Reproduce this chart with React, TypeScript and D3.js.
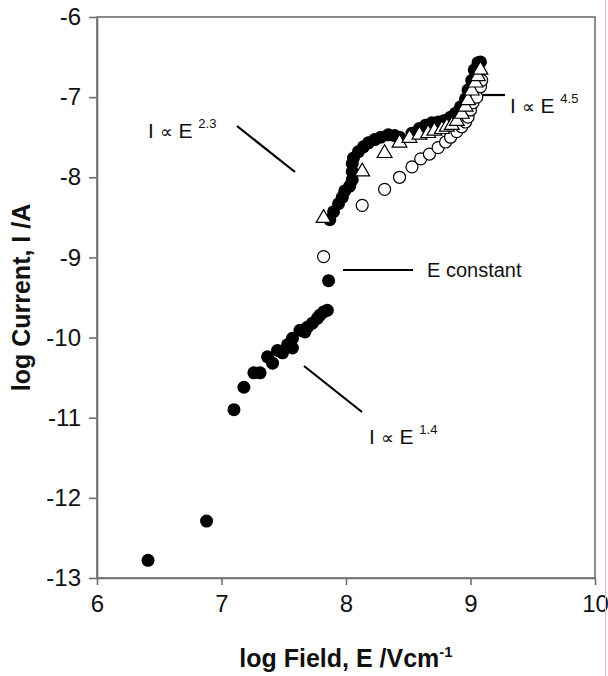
import React, { useRef, useEffect } from "react";
import * as d3 from "d3";

// log field (x) / log current (y) readings
const filledX = [6.41, 6.88, 7.1, 7.18, 7.26, 7.31, 7.37, 7.41, 7.45, 7.49, 7.53, 7.57, 7.57, 7.63, 7.67, 7.69, 7.73, 7.77, 7.79, 7.82, 7.85, 7.86,
  7.87, 7.9, 7.94, 7.97, 7.99, 8.03, 8.05, 8.05, 8.05, 8.06, 8.1, 8.14, 8.18, 8.23, 8.28, 8.34, 8.39, 8.43, 8.53, 8.59, 8.64, 8.69, 8.74, 8.79, 8.84, 8.88, 8.92, 8.96, 8.98, 9.01, 9.03, 9.06, 9.08];
const filledY = [-12.78, -12.29, -10.9, -10.62, -10.44, -10.44, -10.24, -10.32, -10.16, -10.19, -10.09, -10.13, -10.01, -9.91, -9.93, -9.87, -9.82, -9.76, -9.72, -9.68, -9.66, -9.29,
  -8.53, -8.43, -8.33, -8.25, -8.17, -8.11, -8.03, -7.93, -7.83, -7.76, -7.68, -7.62, -7.57, -7.53, -7.5, -7.47, -7.48, -7.5, -7.45, -7.39, -7.35, -7.32, -7.31, -7.29, -7.25, -7.2, -7.12, -7.02, -6.91, -6.79, -6.66, -6.57, -6.56];

const openX = [7.82, 8.13, 8.31, 8.43, 8.53, 8.6, 8.67, 8.74, 8.8, 8.84, 8.89, 8.93, 8.96, 8.98, 9.0, 9.02, 9.05, 9.08, 9.09];
const openY = [-8.99, -8.35, -8.15, -8.0, -7.87, -7.77, -7.71, -7.63, -7.56, -7.5, -7.43, -7.37, -7.31, -7.25, -7.16, -7.07, -7.0, -6.87, -6.79];

const triX = [7.82, 8.13, 8.31, 8.43, 8.51, 8.59, 8.66, 8.71, 8.77, 8.81, 8.85, 8.89, 8.93, 8.96, 8.98, 9.01, 9.04, 9.06, 9.08];
const triY = [-8.51, -7.93, -7.7, -7.57, -7.51, -7.47, -7.45, -7.42, -7.4, -7.37, -7.35, -7.3, -7.21, -7.12, -7.04, -6.92, -6.82, -6.74, -6.66];

const xTicks = [6, 7, 8, 9, 10];
const yTicks = [-6, -7, -8, -9, -10, -11, -12, -13];

const W = 608;
const H = 676;
const margin = { top: 17, right: 13, bottom: 98, left: 97 };
const font = "'Liberation Sans', Arial, sans-serif";

const App = () => {
  const svgRef = useRef(null);

  useEffect(() => {
    const svg = d3.select(svgRef.current);
    svg.selectAll("*").remove();

    const x = d3.scaleLinear().domain([6, 10]).range([margin.left, W - margin.right]);
    const y = d3.scaleLinear().domain([-13, -6]).range([H - margin.bottom, margin.top]);

    // frame
    svg
      .append("rect")
      .attr("x", x(6))
      .attr("y", y(-6))
      .attr("width", x(10) - x(6))
      .attr("height", y(-13) - y(-6))
      .attr("fill", "none")
      .attr("stroke", "#707070")
      .attr("stroke-width", 1.6);

    const fmt = (d) => String(d);
    const xAxis = svg
      .append("g")
      .attr("transform", `translate(0,${y(-13)})`)
      .call(d3.axisBottom(x).tickValues(xTicks).tickFormat(fmt).tickSize(7).tickSizeOuter(0).tickPadding(10));
    const yAxis = svg
      .append("g")
      .attr("transform", `translate(${x(6)},0)`)
      .call(d3.axisLeft(y).tickValues(yTicks).tickFormat(fmt).tickSize(8).tickSizeOuter(0).tickPadding(8));

    [xAxis, yAxis].forEach((g) => {
      g.select(".domain").attr("stroke", "#707070").attr("stroke-width", 1.6);
      g.selectAll(".tick line").attr("stroke", "#707070").attr("stroke-width", 1.6);
      g.selectAll(".tick text")
        .attr("fill", "#111")
        .style("font-family", font)
        .style("font-size", "24px");
    });

    // axis titles
    const xt = svg
      .append("text")
      .attr("x", (x(6) + x(10)) / 2)
      .attr("y", 667)
      .attr("text-anchor", "middle")
      .style("font-family", font)
      .style("font-size", "25px")
      .style("font-weight", "bold")
      .attr("fill", "#111");
    xt.append("tspan").text("log Field, E /Vcm");
    xt.append("tspan").attr("dy", -10).style("font-size", "15px").text("-1");

    svg
      .append("text")
      .attr("transform", `translate(30,${(y(-6) + y(-13)) / 2}) rotate(-90)`)
      .attr("text-anchor", "middle")
      .style("font-family", font)
      .style("font-size", "25px")
      .style("font-weight", "bold")
      .attr("fill", "#111")
      .text("log Current, I /A");

    // markers
    const filled = filledX.map((v, i) => [v, filledY[i]]);
    const open = openX.map((v, i) => [v, openY[i]]);
    const tris = triX.map((v, i) => [v, triY[i]]);

    svg
      .append("g")
      .selectAll("circle")
      .data(filled)
      .enter()
      .append("circle")
      .attr("cx", (d) => x(d[0]))
      .attr("cy", (d) => y(d[1]))
      .attr("r", 6.5)
      .attr("fill", "#000");

    svg
      .append("g")
      .selectAll("circle")
      .data(open)
      .enter()
      .append("circle")
      .attr("cx", (d) => x(d[0]))
      .attr("cy", (d) => y(d[1]))
      .attr("r", 6)
      .attr("fill", "#fff")
      .attr("stroke", "#000")
      .attr("stroke-width", 1.2);

    const tri = d3.symbol().type(d3.symbolTriangle).size(95);
    svg
      .append("g")
      .selectAll("path")
      .data(tris)
      .enter()
      .append("path")
      .attr("d", tri)
      .attr("transform", (d) => `translate(${x(d[0])},${y(d[1])})`)
      .attr("fill", "#fff")
      .attr("stroke", "#000")
      .attr("stroke-width", 1.2);

    // annotations
    const lines = [
      [237, 126, 295, 172],
      [482, 95, 505, 95],
      [343, 270, 413, 270],
      [304, 366, 362, 412]
    ];
    svg
      .append("g")
      .selectAll("line")
      .data(lines)
      .enter()
      .append("line")
      .attr("x1", (d) => d[0])
      .attr("y1", (d) => d[1])
      .attr("x2", (d) => d[2])
      .attr("y2", (d) => d[3])
      .attr("stroke", "#000")
      .attr("stroke-width", 2.2);

    const labels = [
      { x: 148, y: 138, exp: "2.3" },
      { x: 510, y: 113, exp: "4.5" },
      { x: 369, y: 444, exp: "1.4" }
    ];
    labels.forEach((l) => {
      const t = svg
        .append("text")
        .attr("x", l.x)
        .attr("y", l.y)
        .style("font-family", font)
        .style("font-size", "21px")
        .attr("fill", "#111");
      t.append("tspan").text("I ");
      t.append("tspan").style("font-size", "18px").text("\u221D");
      t.append("tspan").text(" E ");
      t.append("tspan").attr("dy", -10).style("font-size", "13px").text(l.exp);
    });

    svg
      .append("text")
      .attr("x", 427)
      .attr("y", 277)
      .style("font-family", font)
      .style("font-size", "20px")
      .attr("fill", "#111")
      .text("E constant");

    // thin pink edge line at the right of the picture
    svg
      .append("line")
      .attr("x1", 605.5)
      .attr("x2", 605.5)
      .attr("y1", 0)
      .attr("y2", H)
      .attr("stroke", "#f4b8b8")
      .attr("stroke-width", 1);
  }, []);

  return (
    <svg
      ref={svgRef}
      width={W}
      height={H}
      style={{ position: "absolute", left: 0, top: 0, background: "#fff" }}
      xmlns="http://www.w3.org/2000/svg"
    />
  );
};

export default App;
